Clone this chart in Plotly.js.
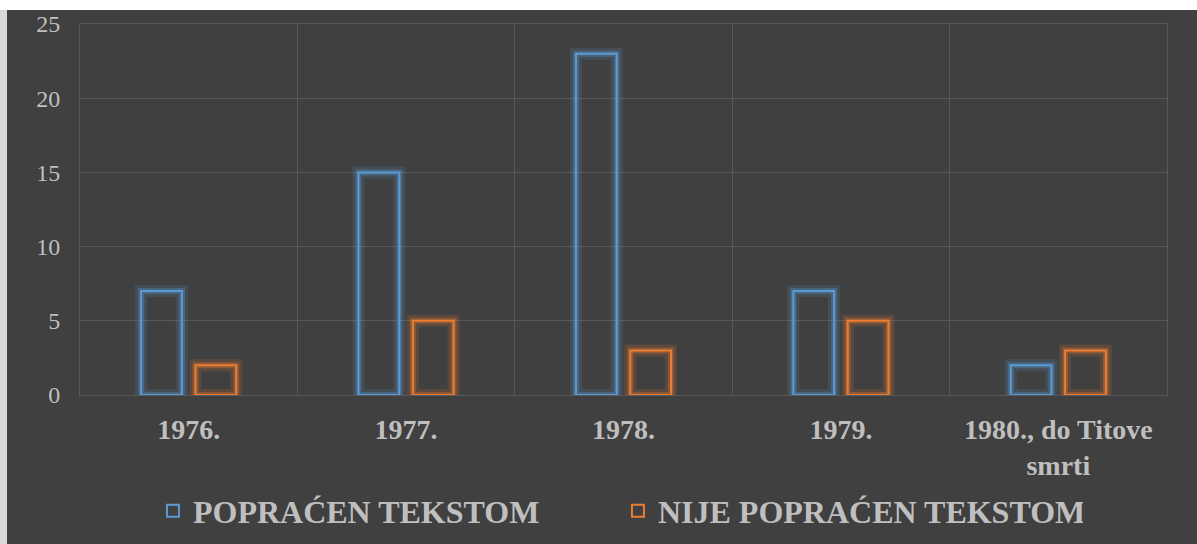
<!DOCTYPE html>
<html><head><meta charset="utf-8">
<script src="https://cdn.plot.ly/plotly-3.0.1.min.js"></script>
<style>
html,body{margin:0;padding:0;background:#ffffff;width:1197px;height:544px;overflow:hidden;}
#edge{position:absolute;left:0;top:10px;width:7px;height:534px;background:#d9d9d9;}
#chart{position:absolute;left:7px;top:10px;width:1190px;height:534px;}
</style></head>
<body>
<div id="edge"></div>
<div id="chart"></div>
<script>
const categories = ["1976.", "1977.", "1978.", "1979.", "1980., do Titove<br>smrti"];
const seriesNames = ["POPRAĆEN TEKSTOM", "NIJE POPRAĆEN TEKSTOM"];
const popracen = [7, 15, 23, 7, 2];
const nijePopracen = [2, 5, 3, 5, 3];
const yTicks = [0, 5, 10, 15, 20, 25];

const blue = "#5B9BD5", orange = "#ED7D31";

function bar(name, y, color, width, group, show) {
  return {type: "bar", name: name, x: categories, y: y, offsetgroup: group,
    marker: {color: "rgba(0,0,0,0)", line: {color: color, width: width}},
    showlegend: show, hoverinfo: "skip"};
}
const data = [
  bar(seriesNames[0], popracen, "rgba(91,155,213,0.16)", 12, "a", false),
  bar(seriesNames[1], nijePopracen, "rgba(237,125,49,0.16)", 12, "b", false),
  bar(seriesNames[0], popracen, "rgba(91,155,213,0.32)", 6, "a", false),
  bar(seriesNames[1], nijePopracen, "rgba(237,125,49,0.32)", 6, "b", false),
  bar(seriesNames[0], popracen, blue, 2, "a", true),
  bar(seriesNames[1], nijePopracen, orange, 2, "b", true)
];
const grid = "#585858";
const layout = {
  width: 1190, height: 534,
  paper_bgcolor: "#404040", plot_bgcolor: "#404040",
  margin: {l: 73, r: 30, t: 14, b: 149},
  barmode: "group", bargap: 0.5, bargroupgap: 0.25,
  font: {family: "Liberation Serif, Times New Roman, serif", color: "#bfbfbf"},
  xaxis: {type: "category", tickson: "boundaries", showgrid: true, gridcolor: grid, gridwidth: 1,
    ticks: "", showline: true, mirror: true, linecolor: grid, linewidth: 1, automargin: false,
    tickfont: {size: 28, weight: "bold", color: "#bfbfbf"}, ticklabelstandoff: 9},
  yaxis: {range: [0, 25], tickvals: yTicks, showgrid: true, gridcolor: grid, gridwidth: 1,
    zeroline: false, showline: true, mirror: true, linecolor: grid, linewidth: 1, automargin: false,
    tickfont: {size: 24, color: "#bfbfbf"}, ticklabelstandoff: 14},
  legend: {orientation: "h", xref: "container", yref: "container", x: 0.5134, xanchor: "center",
    y: 0.062, yanchor: "middle",
    font: {size: 32, weight: "bold", color: "#bfbfbf"}, bgcolor: "rgba(0,0,0,0)",
    entrywidth: 420, itemclick: false},
  showlegend: true
};
Plotly.newPlot("chart", data, layout, {displayModeBar: false, staticPlot: true});
</script>
</body></html>
